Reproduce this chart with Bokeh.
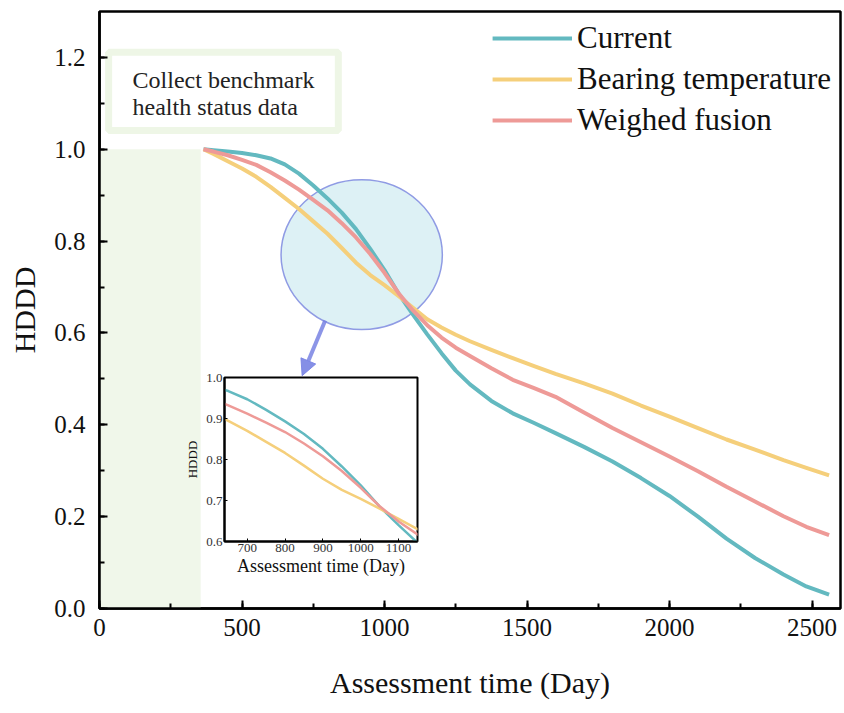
from bokeh.plotting import figure
from bokeh.models import (Range1d, SingleIntervalTicker, PrintfTickFormatter, Arrow, NormalHead,
                          ColumnDataSource)
from bokeh.layouts import column
from bokeh.core.properties import value
from bokeh.embed import file_html
from bokeh.resources import INLINE

# ---- data ----
x_days = [365, 400, 450, 500, 550, 600, 650, 700, 750, 800, 850, 900, 950, 1000, 1050, 1100, 1150,
          1200, 1250, 1300, 1375, 1450, 1525, 1600, 1700, 1800, 1900, 2000, 2100, 2200, 2300, 2400, 2480, 2560]
current = [1.000, 0.998, 0.995, 0.992, 0.987, 0.980, 0.967, 0.947, 0.921, 0.893, 0.862, 0.826, 0.783, 0.737,
           0.685, 0.640, 0.597, 0.556, 0.518, 0.488, 0.452, 0.425, 0.404, 0.382, 0.352, 0.320, 0.284, 0.245,
           0.200, 0.152, 0.110, 0.074, 0.048, 0.030]
bearing = [1.000, 0.990, 0.974, 0.958, 0.940, 0.918, 0.894, 0.870, 0.843, 0.816, 0.785, 0.753, 0.726, 0.704,
           0.680, 0.655, 0.630, 0.612, 0.596, 0.582, 0.563, 0.545, 0.528, 0.511, 0.490, 0.468, 0.442, 0.418,
           0.393, 0.368, 0.346, 0.323, 0.306, 0.290]
fusion = [1.000, 0.995, 0.987, 0.977, 0.966, 0.950, 0.932, 0.912, 0.890, 0.867, 0.839, 0.808, 0.772, 0.731,
          0.686, 0.649, 0.617, 0.590, 0.568, 0.550, 0.523, 0.498, 0.480, 0.461, 0.427, 0.393, 0.362, 0.331,
          0.299, 0.265, 0.233, 0.201, 0.178, 0.160]
series_names = ["Current", "Bearing temperature", "Weighed fusion"]
benchmark_end = 355
annotation_lines = ["Collect benchmark", "health status data"]

FONT = "Liberation Serif"
C_TEAL = "#63b9c0"
C_YEL = "#f5cf7b"
C_RED = "#ee9a97"

src = ColumnDataSource(dict(x=x_days, cur=current, bea=bearing, fus=fusion))

p = figure(width=844, height=713, x_range=Range1d(0, 2600), y_range=Range1d(0, 1.3),
           output_backend="svg", toolbar_location=None,
           min_border_left=99, min_border_right=4, min_border_top=11, min_border_bottom=105)
p.xgrid.visible = False
p.ygrid.visible = False
p.outline_line_color = "black"
p.outline_line_width = 2.5
p.background_fill_color = "white"
p.border_fill_color = "white"

# benchmark shading
p.quad(left=[0], right=[benchmark_end], bottom=[0], top=[1.0], fill_color="#f0f7ea", line_color=None)

# annotation box
p.quad(left=[32], right=[838], bottom=[1.041], top=[1.211], fill_color="white",
       line_color="#eef6e6", line_width=7)
p.text(x=[116, 116], y=[1.150, 1.092], text=annotation_lines, text_font=value(FONT),
       text_font_size="24px", text_baseline="middle", text_align="left", text_color="#222222")

# zoom circle
p.ellipse(x=[920], y=[0.7705], width=[566], height=[0.326], fill_color="#ddf1f5",
          line_color="#8f9be4", line_width=1.5)
p.add_layout(Arrow(end=NormalHead(size=16, fill_color="#7883e3", line_color="#7883e3", fill_alpha=0.9, line_alpha=0.9),
                   x_start=792, y_start=0.627, x_end=711, y_end=0.507,
                   line_color="#7883e3", line_width=4, line_alpha=0.85))

# curves
p.line("x", "cur", source=src, line_color=C_TEAL, line_width=4, legend_label=series_names[0], line_join="round")
p.line("x", "bea", source=src, line_color=C_YEL, line_width=4, legend_label=series_names[1], line_join="round")
p.line("x", "fus", source=src, line_color=C_RED, line_width=4, legend_label=series_names[2], line_join="round")

# axes
p.xaxis.ticker = SingleIntervalTicker(interval=500, num_minor_ticks=2)
p.yaxis.ticker = SingleIntervalTicker(interval=0.2, num_minor_ticks=2)
p.yaxis.formatter = PrintfTickFormatter(format="%.1f")
for ax in (p.xaxis[0], p.yaxis[0]):
    ax.axis_line_width = 2.5
    ax.axis_line_color = "black"
    ax.major_tick_in = 8
    ax.major_tick_out = 0
    ax.minor_tick_in = 5
    ax.minor_tick_out = 0
    ax.major_tick_line_width = 2
    ax.minor_tick_line_width = 2
    ax.major_label_text_font = FONT
    ax.major_label_text_font_size = "25px"
    ax.major_label_text_color = "#111111"
    ax.axis_label_text_font = FONT
    ax.axis_label_text_font_size = "30px"
    ax.axis_label_text_font_style = "normal"
    ax.axis_label_text_color = "#111111"
p.xaxis.axis_label = "Assessment time (Day)"
p.yaxis.axis_label = "HDDD"
p.xaxis.major_label_standoff = 10
p.xaxis.axis_label_standoff = 27
p.yaxis.major_label_standoff = 14
p.yaxis.axis_label_standoff = 10

lg = p.legend[0]
lg.location = "top_right"
lg.margin = 9
lg.padding = 0
lg.border_line_color = None
lg.background_fill_alpha = 0
lg.glyph_width = 80
lg.glyph_height = 34
lg.label_height = 34
lg.spacing = 5
lg.label_standoff = 5
lg.label_text_font = FONT
lg.label_text_font_size = "31px"
lg.label_text_color = "#111111"

# ---- inset ----
p2 = figure(frame_width=193, frame_height=164, x_range=Range1d(640, 1150), y_range=Range1d(0.6, 1.0),
            output_backend="svg", toolbar_location=None,
            min_border_left=99, min_border_bottom=40, min_border_top=12, min_border_right=4)
p2.xgrid.visible = False
p2.ygrid.visible = False
p2.outline_line_color = "black"
p2.outline_line_width = 2
p2.background_fill_color = "white"
p2.border_fill_color = None
p2.line("x", "cur", source=src, line_color=C_TEAL, line_width=2.5)
p2.line("x", "bea", source=src, line_color=C_YEL, line_width=2.5)
p2.line("x", "fus", source=src, line_color=C_RED, line_width=2.5)
p2.xaxis.ticker = SingleIntervalTicker(interval=100, num_minor_ticks=0)
p2.yaxis.ticker = SingleIntervalTicker(interval=0.1, num_minor_ticks=0)
p2.yaxis.formatter = PrintfTickFormatter(format="%.1f")
for ax in (p2.xaxis[0], p2.yaxis[0]):
    ax.axis_line_width = 2
    ax.major_tick_in = 3
    ax.major_tick_out = 0
    ax.minor_tick_in = 0
    ax.minor_tick_out = 0
    ax.major_label_standoff = 2
    ax.major_label_text_font = FONT
    ax.major_label_text_font_size = "13px"
    ax.major_label_text_color = "#333333"
    ax.axis_label_text_font = FONT
    ax.axis_label_text_font_style = "normal"
    ax.axis_label_text_color = "#111111"
p2.xaxis.axis_label = "Assessment time (Day)"
p2.xaxis.axis_label_text_font_size = "18px"
p2.xaxis.axis_label_standoff = 1
p2.yaxis.axis_label = "HDDD"
p2.yaxis.axis_label_text_font_size = "13px"
p2.yaxis.axis_label_standoff = 3
p2.margin = (-348, 0, 0, 125)

layout = column(p, p2)
open("out.html", "w").write(file_html(layout, INLINE))
